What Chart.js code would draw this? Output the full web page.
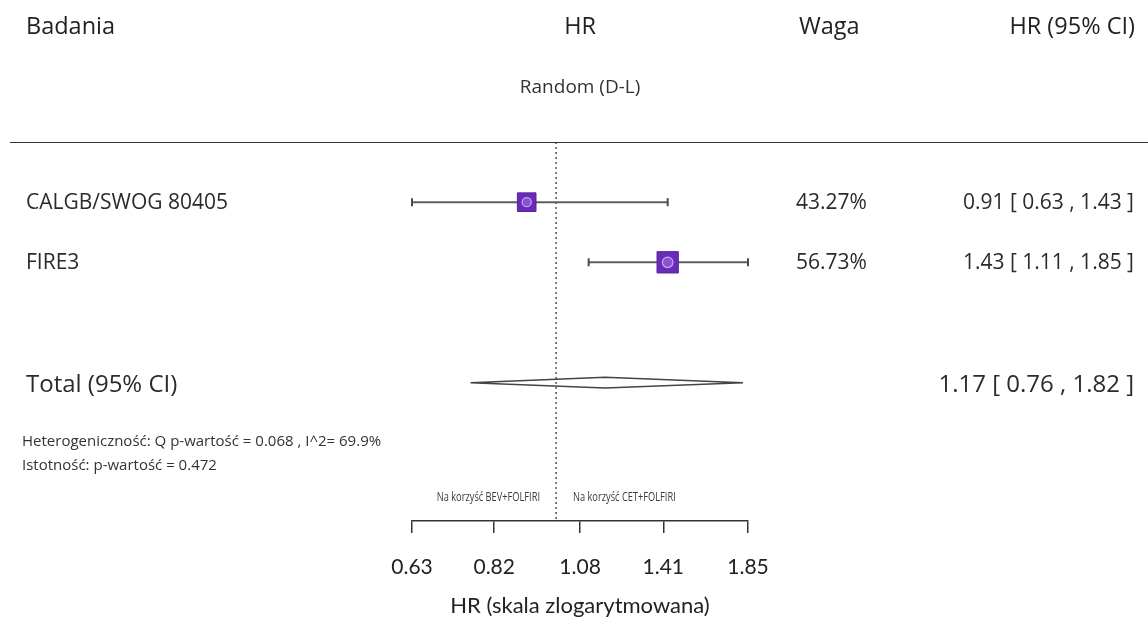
<!DOCTYPE html>
<html>
<head>
<meta charset="utf-8">
<script src="https://cdn.jsdelivr.net/npm/chart.js@4.4.0/dist/chart.umd.min.js"></script>
<style>
  html, body { margin: 0; padding: 0; background: #fff; }
  #wrap { position: relative; width: 1148px; height: 622px; overflow: hidden; font-family: 'Open Sans', sans-serif; color: #2b2b2b; }
  #plot { position: absolute; left: 0; top: 0; }
  .t { position: absolute; white-space: nowrap; line-height: 1.2; transform: translateY(-50%); }
  .t.r { transform: translate(-100%, -50%); }
  .t.c { transform: translate(-50%, -50%); }
  .t.nl { transform-origin: left center; transform: translateY(-50%) scaleX(0.74); }
  .t.nr { transform-origin: right center; transform: translate(-100%, -50%) scaleX(0.74); }
  #rule { position: absolute; left: 10px; right: 0; top: 142px; border-top: 1.5px solid #333; }
</style>
</head>
<body>
<div id="wrap">
  <canvas id="plot" width="1148" height="622"></canvas>
  <div id="rule"></div>
</div>
<script>
// =======================
// Data
const studies = ['CALGB/SWOG 80405', 'FIRE3'];
const hr = [0.91, 1.43];
const ciLow = [0.63, 1.11];
const ciHigh = [1.43, 1.85];
const weights = [43.27, 56.73];

const totalLabel = 'Total (95% CI)';
const totalHr = 1.17;
const totalLow = 0.76;
const totalHigh = 1.82;

const tickValues = [0.63, 0.82, 1.08, 1.41, 1.85];
const refValue = 1;

const heteroText = 'Heterogeniczność: Q p-wartość = 0.068 , I^2= 69.9%';
const signifText = 'Istotność: p-wartość = 0.472';
const favourLeft = 'Na korzyść BEV+FOLFIRI';
const favourRight = 'Na korzyść CET+FOLFIRI';

// =======================
// Row layout (y = row index, reversed scale)
const totalRow = 3;
const yTop = -1;
const yAxis = 5.3;
const diamondHalf = 0.09;

const fmt = v => v.toFixed(2);

const datasets = [];

// lighter centre of each box (first dataset = drawn on top)
datasets.push({
  data: hr.map((v, i) => ({ x: v, y: i })),
  pointStyle: 'circle',
  pointRadius: weights.map(w => 0.7 * Math.sqrt(w)),
  backgroundColor: 'rgba(140,90,210,0.85)',
  borderColor: 'rgba(210,185,240,0.9)',
  borderWidth: 1.2,
  showLine: false,
  clip: false
});

// boxes
datasets.push({
  data: hr.map((v, i) => ({ x: v, y: i })),
  pointStyle: 'rect',
  pointRadius: weights.map(w => 2.0 * Math.sqrt(w)),
  backgroundColor: '#6a2bb8',
  borderColor: '#5b1fa3',
  borderWidth: 1,
  showLine: false,
  clip: false
});

// confidence intervals
studies.forEach((s, i) => {
  datasets.push({
    data: [{ x: ciLow[i], y: i }, { x: ciHigh[i], y: i }],
    showLine: true,
    borderColor: '#5e5e5e',
    borderWidth: 2,
    pointStyle: 'line',
    pointRotation: 90,
    pointRadius: 4,
    pointBorderColor: '#4a4a4a',
    pointBorderWidth: 2,
    clip: false
  });
});

// pooled diamond
datasets.push({
  data: [
    { x: totalLow, y: totalRow },
    { x: totalHr, y: totalRow - diamondHalf },
    { x: totalHigh, y: totalRow },
    { x: totalHr, y: totalRow + diamondHalf },
    { x: totalLow, y: totalRow }
  ],
  showLine: true,
  borderColor: '#444',
  borderWidth: 1.5,
  pointRadius: 0,
  fill: false,
  clip: false
});

// line of no effect
datasets.push({
  data: [{ x: refValue, y: yTop }, { x: refValue, y: yAxis }],
  showLine: true,
  borderColor: '#555',
  borderWidth: 1.5,
  borderDash: [2, 3],
  pointRadius: 0,
  clip: false
});

const chart = new Chart(document.getElementById('plot'), {
  type: 'scatter',
  data: { datasets: datasets },
  options: {
    responsive: false,
    animation: false,
    devicePixelRatio: 1,
    events: [],
    layout: { padding: { left: 412, right: 400, top: 142, bottom: 0 } },
    plugins: { legend: { display: false }, tooltip: { enabled: false } },
    scales: {
      x: {
        type: 'logarithmic',
        min: tickValues[0],
        max: tickValues[tickValues.length - 1],
        bounds: 'data',
        afterBuildTicks: s => { s.ticks = tickValues.map(v => ({ value: v })); },
        afterFit: s => { s.height = 101; },
        ticks: {
          callback: v => fmt(v),
          autoSkip: false,
          maxRotation: 0,
          padding: 22,
          color: '#222',
          font: { family: 'Lato', size: 21 }
        },
        grid: { drawOnChartArea: false, drawTicks: true, tickLength: 12, color: '#333', lineWidth: 1.5 },
        border: { display: true, color: '#333', width: 1.5 },
        title: {
          display: true,
          text: 'HR (skala zlogarytmowana)',
          color: '#222',
          font: { family: 'Lato', size: 22 },
          padding: { top: 0, bottom: 3 }
        }
      },
      y: { type: 'linear', reverse: true, min: yTop, max: yAxis, display: false }
    }
  }
});

// =======================
// Text columns (real HTML text)
const wrap = document.getElementById('wrap');
function addText(txt, x, y, cls, css) {
  const d = document.createElement('div');
  d.className = 't' + (cls ? ' ' + cls : '');
  d.textContent = txt;
  d.style.left = x + 'px';
  d.style.top = y + 'px';
  Object.assign(d.style, css || {});
  wrap.appendChild(d);
}

const ys = chart.scales.y;
const xs = chart.scales.x;
const head = { fontSize: '23.5px', color: '#222' };
addText('Badania', 26, 25, '', head);
addText('HR', xs.getPixelForValue(tickValues[2]), 25, 'c', head);
addText('Random (D-L)', xs.getPixelForValue(tickValues[2]), 86, 'c', { fontSize: '19px', color: '#333' });
addText('Waga', 799, 25, '', head);
addText('HR (95% CI)', 1135, 25, 'r', head);

const row = { fontSize: '21px', color: '#2b2b2b' };
studies.forEach((s, i) => {
  const y = ys.getPixelForValue(i);
  addText(s, 26, y, '', row);
  addText(weights[i].toFixed(2) + '%', 796, y, '', row);
  addText(fmt(hr[i]) + ' [ ' + fmt(ciLow[i]) + ' , ' + fmt(ciHigh[i]) + ' ]', 1134, y, 'r', row);
});

const ty = ys.getPixelForValue(totalRow);
addText(totalLabel, 26, ty, '', { fontSize: '24px' });
addText(fmt(totalHr) + ' [ ' + fmt(totalLow) + ' , ' + fmt(totalHigh) + ' ]', 1134, ty, 'r', { fontSize: '24px' });

const small = { fontSize: '15px', color: '#333' };
addText(heteroText, 22, 440, '', small);
addText(signifText, 22, 464, '', small);

const fav = { fontSize: '12.5px', color: '#3a3a3a' };
const refX = xs.getPixelForValue(refValue);
addText(favourLeft, refX - 16, 496, 'nr', fav);
addText(favourRight, refX + 17, 496, 'nl', fav);
</script>
</body>
</html>
